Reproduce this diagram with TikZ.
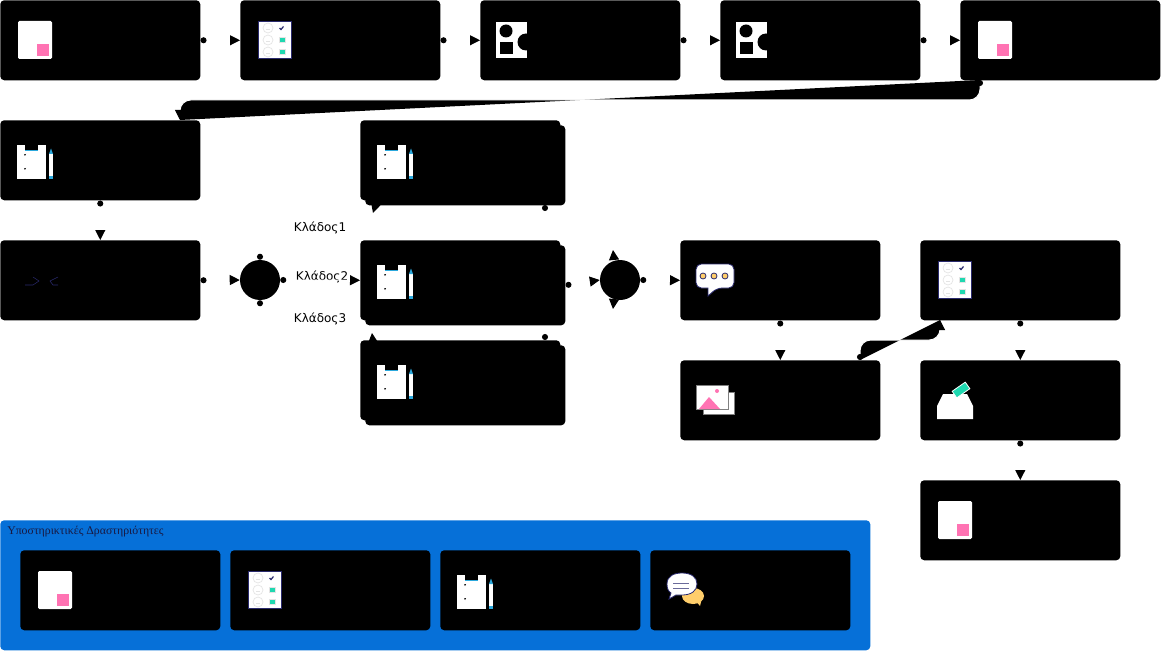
\documentclass[tikz,border=0pt]{standalone}
\usepackage{fontspec}
\setmainfont{DejaVu Sans}
\newfontfamily\titlefont{Liberation Serif}
\usetikzlibrary{arrows.meta,backgrounds}
\definecolor{iconpink}{HTML}{FF73B3}
\definecolor{iconteal}{HTML}{1FD8B0}
\definecolor{iconnavy}{HTML}{2A2A6E}
\definecolor{iconcyan}{HTML}{2BA8DC}
\definecolor{iconyellow}{HTML}{FFCE6B}
\definecolor{facegray}{HTML}{E4E4E4}
\definecolor{groupblue}{HTML}{0670D8}
\tikzset{
  actbox/.style={fill=black,rounded corners=3pt,minimum width=150pt,minimum height=60pt,inner sep=0pt,anchor=north west},
  gatecircle/.style={fill=black,circle,minimum size=30pt,inner sep=0pt},
  groupbox/.style={fill=groupblue,rounded corners=3pt,minimum width=652.5pt,minimum height=97.5pt,inner sep=0pt,anchor=north west},
  branchlabel/.style={font=\fontsize{9}{11}\selectfont,inner sep=0pt},
  flow/.style={draw=white,line width=0.75pt,{Circle[length=4.5pt,color=black]}-{Triangle[length=7.5pt,width=7.5pt,color=black]}},
  docicon/.pic={
    \fill[white,rounded corners=1pt] (18,21) rectangle (52,59);
    \fill[iconpink] (37,44) rectangle (49,56);
  },
  checkicon/.pic={
    \draw[iconnavy,fill=white,line width=0.6pt] (18.5,21.5) rectangle (51.5,58.5);
    \foreach \rowy in {28,40,52} {
      \draw[facegray,line width=0.5pt] (28,\rowy) circle (5);
      \draw[facegray,line width=0.4pt] (26,\rowy+1) -- (30,\rowy+1);
    }
    \draw[iconnavy,line width=0.9pt] (39.5,28) -- (41,29.5) -- (43.5,26.5);
    \foreach \rowy in {40,52} {
      \fill[facegray] (38.5,\rowy-3) rectangle (45.5,\rowy+3);
      \fill[iconteal] (40,\rowy-2) rectangle (45,\rowy+2);
    }
  },
  shapeicon/.pic={
    \fill[white] (16,22) rectangle (47,58);
    \fill[black] (26,31) circle (6.5);
    \fill[black] (20,42) rectangle (33,54);
    \fill[black] (46,42) circle (8.5);
  },
  clipicon/.pic={
    \fill[white] (17,25) rectangle (46,59);
    \fill[black] (25,25) rectangle (38,30);
    \fill[iconcyan] (25,29.7) rectangle (38,30.5);
    \fill[black] (24,34.5) -- (26,34) -- (25,36) -- cycle;
    \fill[black] (24,48.5) -- (26,48) -- (25,50) -- cycle;
    \fill[white] (49,34) rectangle (53,56);
    \fill[iconcyan] (49,34) -- (51,28.5) -- (53,34) -- cycle;
    \fill[iconcyan] (49,56) rectangle (53,59);
  },
  markicon/.pic={
    \draw[iconnavy,line width=0.4pt] (25,45) -- (33,45) -- (39,41) -- (33,37);
    \draw[iconnavy,line width=0.4pt] (58,45) -- (53,45) -- (50,41) -- (58,37);
  },
  bubbleicon/.pic={
    \draw[iconnavy,fill=white,line width=0.6pt] (37,48) [sharp corners] -- (28,56) -- (28,48) [rounded corners=4pt] -- (16,48) -- (16,24) -- (54,24) -- (54,48) -- cycle;
    \foreach \dotx in {23,34,45} {
      \draw[iconnavy,fill=iconyellow,line width=0.6pt] (\dotx,36) circle (3);
    }
  },
  photoicon/.pic={
    \filldraw[white,draw=gray,line width=0.3pt] (23,32) rectangle (54,54);
    \filldraw[white,draw=gray,line width=0.3pt] (16,25) rectangle (48,49);
    \fill[iconpink] (19,49) -- (29,37) -- (40,49) -- cycle;
    \fill[iconpink] (37,31) circle (2);
  },
  ballicon/.pic={
    \fill[white] (17,46) -- (23,34) -- (47,34) -- (53,46) -- (53,59) -- (17,59) -- cycle;
    \filldraw[iconteal,draw=white,line width=0.6pt,rotate around={35:(41,30)}] (33,26) rectangle (49,34);
  },
  chaticon/.pic={
    \fill[iconyellow] (43,46) ellipse (11 and 8);
    \fill[iconyellow] (45,50) -- (50,56) -- (52,48) -- cycle;
    \draw[iconnavy,fill=white,line width=0.6pt] (17,34) .. controls (17,26) and (24,23) .. (32,23) .. controls (41,23) and (47,27) .. (47,34) .. controls (47,41) and (41,45) .. (32,45) -- (26,45) -- (19,49) -- (21,43) .. controls (18,41) and (17,38) .. (17,34);
    \draw[iconnavy!70,line width=0.7pt] (23,33) -- (39,33);
    \draw[iconnavy!70,line width=0.7pt] (23,38) -- (39,38);
  }
}

\begin{document}
\begin{tikzpicture}[x=0.75pt,y=-0.75pt]
  \useasboundingbox (0,0) rectangle (1162,652);

  % top row
  \node[actbox] (task1) at (0,0) {};
  \node[actbox] (task2) at (240,0) {};
  \node[actbox] (task3) at (480,0) {};
  \node[actbox] (task4) at (720,0) {};
  \node[actbox] (task5) at (960,0) {};
  \pic at (task1.north west) {docicon};
  \pic at (task2.north west) {checkicon};
  \pic at (task3.north west) {shapeicon};
  \pic at (task4.north west) {shapeicon};
  \pic at (task5.north west) {docicon};

  % left column
  \node[actbox] (task6) at (0,120) {};
  \node[actbox] (task7) at (0,240) {};
  \pic at (task6.north west) {clipicon};
  \pic at (task7.north west) {markicon};

  % branches
  \node[gatecircle] (gate1) at (260,280) {};
  \node[gatecircle] (gate2) at (620,280) {};
  \node[actbox] (task8back) at (365,125) {};
  \node[actbox] (task8) at (360,120) {};
  \node[actbox] (task9back) at (365,245) {};
  \node[actbox] (task9) at (360,240) {};
  \node[actbox] (task10back) at (365,345) {};
  \node[actbox] (task10) at (360,340) {};
  \pic at (task8.north west) {clipicon};
  \pic at (task9.north west) {clipicon};
  \pic at (task10.north west) {clipicon};
  \node[branchlabel] (branch1) at (320,228) {Κλάδος1};
  \node[branchlabel] (branch2) at (322,277) {Κλάδος2};
  \node[branchlabel] (branch3) at (320,319) {Κλάδος3};

  % right part
  \node[actbox] (task11) at (680,240) {};
  \node[actbox] (task12) at (680,360) {};
  \node[actbox] (task13) at (920,240) {};
  \node[actbox] (task14) at (920,360) {};
  \node[actbox] (task15) at (920,480) {};
  \pic at (task11.north west) {bubbleicon};
  \pic at (task12.north west) {photoicon};
  \pic at (task13.north west) {checkicon};
  \pic at (task14.north west) {ballicon};
  \pic at (task15.north west) {docicon};

  % support group
  \node[groupbox] (group) at (0,520) {};
  \node[anchor=west,inner sep=0pt,text=iconnavy!60!black,font=\titlefont\fontsize{8.85}{11}\selectfont] (grouptitle) at (7,531.5) {Υποστηρικτικές Δραστηριότητες};
  \node[actbox] (support1) at (20,550) {};
  \node[actbox] (support2) at (230,550) {};
  \node[actbox] (support3) at (440,550) {};
  \node[actbox] (support4) at (650,550) {};
  \pic at (support1.north west) {docicon};
  \pic at (support2.north west) {checkicon};
  \pic at (support3.north west) {clipicon};
  \pic at (support4.north west) {chaticon};

  % free ends
  \coordinate (longout) at (980,80);
  \coordinate (longin) at (180,120);
  \coordinate (backout) at (860,360);
  \coordinate (backin) at (940,320);
  \coordinate (branch1in) at (373,213);
  \coordinate (branch3in) at (372,333);
  \coordinate (merge1out) at (545,205);
  \coordinate (merge3out) at (545,340);
  \coordinate (merge1in) at (613,250);
  \coordinate (merge3in) at (613,309);

  \draw[flow] (task1.east) -- (task2.west);
  \draw[flow] (task2.east) -- (task3.west);
  \draw[flow] (task3.east) -- (task4.west);
  \draw[flow] (task4.east) -- (task5.west);
  \path[fill=black,rounded corners=8pt,postaction={flow}] (longout) -- (980,100) -- (180,100) -- (longin);
  \draw[flow] (task6.south) -- (task7.north);
  \draw[flow] (task7.east) -- (gate1.west);
  \draw[flow] (gate1.east) -- (task9.west);
  \draw[flow] (task9back.east) -- (gate2.west);
  \draw[flow] (gate2.east) -- (task11.west);
  \draw[flow] (task11.south) -- (task12.north);
  \path[fill=black,rounded corners=8pt,postaction={flow}] (backout) -- (860,340) -- (940,340) -- (backin);
  \draw[flow] (task13.south) -- (task14.north);
  \draw[flow] (task14.south) -- (task15.north);

  % these pass behind the boxes
  \begin{scope}[on background layer]
    \draw[flow] (gate1.north) |- (376,160) -- (376,203) -- (branch1in);
    \draw[flow] (gate1.south) |- (373,380) -- (373,343) -- (branch3in);
    \draw[flow] (merge1out) |- (gate2.center) -- (614,260) -- (merge1in);
    \draw[flow] (merge3out) |- (gate2.center) -- (614,299) -- (merge3in);
  \end{scope}
\end{tikzpicture}
\end{document}
